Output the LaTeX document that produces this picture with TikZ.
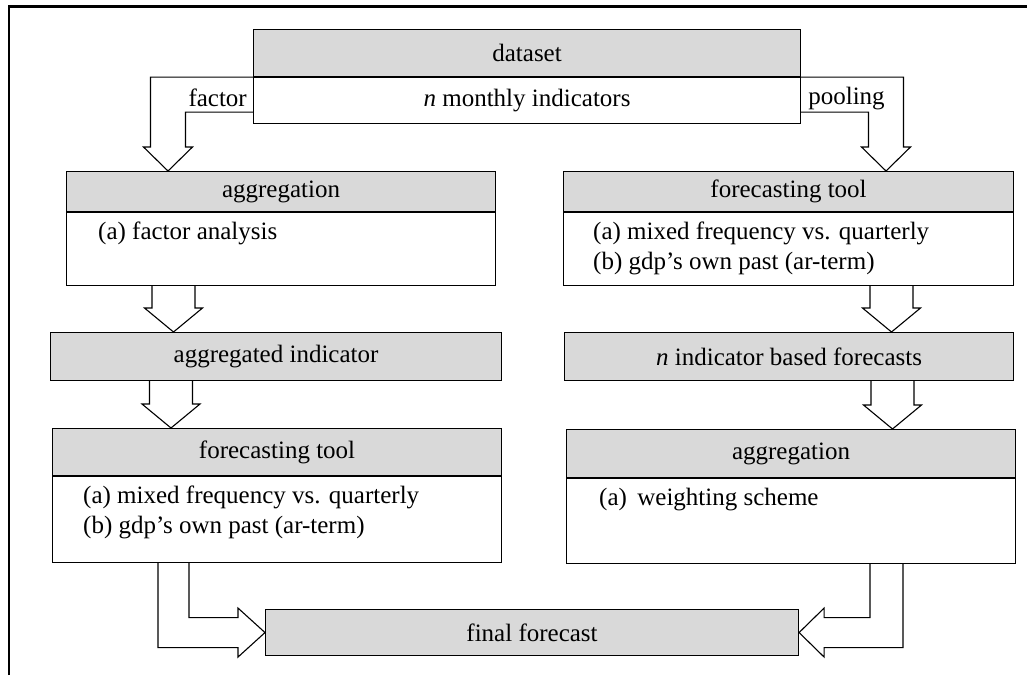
\documentclass[tikz,border=0pt]{standalone}
\usepackage{fontspec}
\setmainfont{Liberation Serif}
\usetikzlibrary{positioning,calc}
\definecolor{boxgray}{RGB}{217,217,217}

% block arrow pointing down: upper node, lower node, x of the arrow
\newcommand{\dnblock}[3]{%
  \draw[blockarrow] let \p1=(#1.south), \p2=(#2.north), \p3=(#3,0) in
    (\x3-21.5pt,\y1) -- (\x3-21.5pt,\y2+24pt) -- (\x3-29pt,\y2+24pt) -- (\x3,\y2)
    -- (\x3+29pt,\y2+24pt) -- (\x3+21.5pt,\y2+24pt) -- (\x3+21.5pt,\y1);}

\begin{document}
\begin{tikzpicture}[x=1pt,y=-1pt,
    every node/.style={font=\fontsize{25}{30}\selectfont},
    header/.style={draw,fill=boxgray,line width=1.1pt,inner sep=0pt,anchor=north west},
    body/.style={draw,fill=white,line width=1.1pt,inner sep=0pt},
    bodytext/.style={inner sep=0pt,align=left},
    blockarrow/.style={draw,line width=1.1pt,line join=miter}]
\useasboundingbox (0,0) rectangle (1027,675);
\draw[line width=2.5pt] (9,675) -- (9,6.5) -- (1027,6.5);

% dataset
\node[header,minimum width=547pt,minimum height=47pt] (dshead) at (253,29) {dataset};
\node[body,minimum width=547pt,minimum height=46pt,below=0pt of dshead] (dsbody) {\textit{n} monthly indicators};
\node[inner sep=0pt,left=6pt of dsbody.west,yshift=3pt] (factorlbl) {factor};
\node[inner sep=0pt,right=7pt of dsbody.east,yshift=2pt] (poolinglbl) {pooling};

% left column
\node[header,minimum width=429pt,minimum height=40pt] (aggLhead) at (66,171) {aggregation};
\node[body,minimum width=429pt,minimum height=73pt,below=0pt of aggLhead] (aggLbody) {};
\node[bodytext,below right=10pt and 32pt of aggLbody.north west] (aggLtext) {(a) factor analysis};
\node[header,minimum width=451pt,minimum height=48pt] (aggind) at (50,332) {aggregated indicator};
\node[header,minimum width=449pt,minimum height=47pt] (fcLhead) at (52,428) {forecasting tool};
\node[body,minimum width=449pt,minimum height=86pt,below=0pt of fcLhead] (fcLbody) {};
\node[bodytext,below right=10pt and 31pt of fcLbody.north west] (fcLtext) {(a) mixed frequency vs. quarterly\\(b) gdp’s own past (ar-term)};

% right column
\node[header,minimum width=450pt,minimum height=40pt] (fcRhead) at (563,171) {forecasting tool};
\node[body,minimum width=450pt,minimum height=73pt,below=0pt of fcRhead] (fcRbody) {};
\node[bodytext,below right=10pt and 30pt of fcRbody.north west] (fcRtext) {(a) mixed frequency vs. quarterly\\(b) gdp’s own past (ar-term)};
\node[header,minimum width=449pt,minimum height=48pt] (nind) at (564,332) {\textit{n} indicator based forecasts};
\node[header,minimum width=449pt,minimum height=48pt] (aggRhead) at (566,429) {aggregation};
\node[body,minimum width=449pt,minimum height=85pt,below=0pt of aggRhead] (aggRbody) {};
\node[bodytext,below right=10pt and 33pt of aggRbody.north west] (aggRtext) {(a)\, weighting scheme};

% final
\node[header,minimum width=533pt,minimum height=46pt] (final) at (265,609) {final forecast};

% arrows
\draw[blockarrow] let \p1=(dshead.south west), \p2=($(aggLhead.north west)+(102,0)$) in
  (\p1) -- (\x2-17.5pt,\y1) -- (\x2-17.5pt,\y2+24pt) -- (\x2-24.5pt,\y2+24pt) -- (\p2)
  -- (\x2+24.5pt,\y2+24pt) -- (\x2+17.5pt,\y2+24pt) -- (\x2+17.5pt,\y1-35pt) -- (\x1,\y1-35pt);
\draw[blockarrow] let \p1=(dshead.south east), \p2=($(fcRhead.north west)+(323,0)$) in
  (\p1) -- (\x2+17.5pt,\y1) -- (\x2+17.5pt,\y2+24pt) -- (\x2+24.5pt,\y2+24pt) -- (\p2)
  -- (\x2-24.5pt,\y2+24pt) -- (\x2-17.5pt,\y2+24pt) -- (\x2-17.5pt,\y1-35pt) -- (\x1,\y1-35pt);
\dnblock{aggLbody}{aggind}{173.5}
\dnblock{aggind}{fcLhead}{171}
\dnblock{fcRbody}{nind}{891.5}
\dnblock{nind}{aggRhead}{892.5}
\draw[blockarrow] let \p1=(fcLbody.south west), \p2=(final.west) in
  (\x1+106pt,\y1) -- (\x1+106pt,\y2-15pt) -- (\x2-27pt,\y2-15pt) -- (\x2-27pt,\y2-24.5pt) -- (\p2)
  -- (\x2-27pt,\y2+24.5pt) -- (\x2-27pt,\y2+15pt) -- (\x1+137pt,\y2+15pt) -- (\x1+137pt,\y1);
\draw[blockarrow] let \p1=(aggRbody.south west), \p2=(final.east) in
  (\x1+337pt,\y1) -- (\x1+337pt,\y2-15pt) -- (\x2+25pt,\y2-15pt) -- (\x2+25pt,\y2-24.5pt) -- (\p2)
  -- (\x2+25pt,\y2+24.5pt) -- (\x2+25pt,\y2+15pt) -- (\x1+304pt,\y2+15pt) -- (\x1+304pt,\y1);
\end{tikzpicture}
\end{document}
